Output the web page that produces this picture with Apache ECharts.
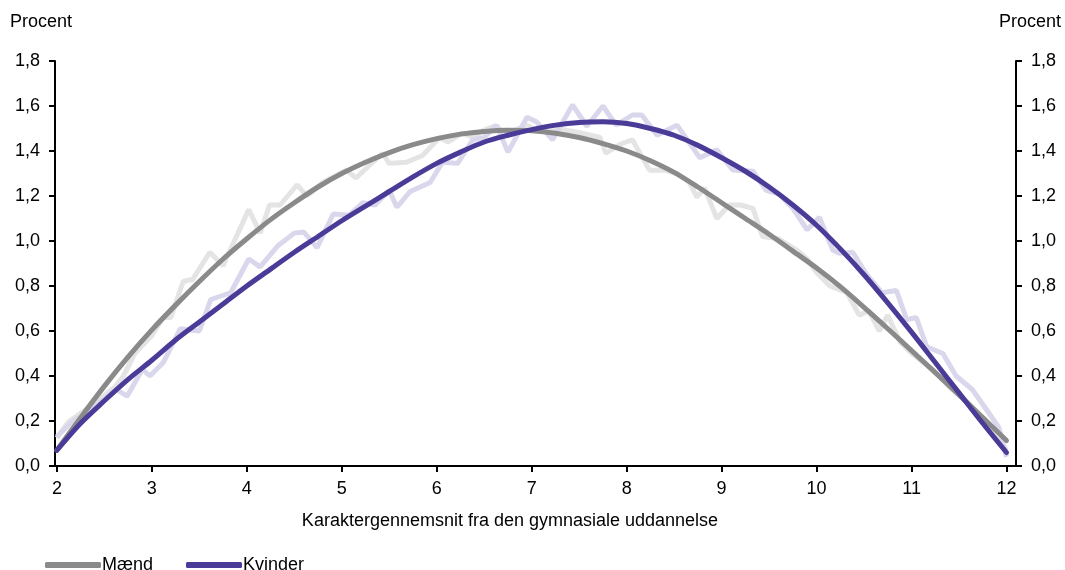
<!DOCTYPE html>
<html>
<head>
<meta charset="utf-8">
<script src="https://cdn.jsdelivr.net/npm/echarts@6/dist/echarts.min.js"></script>
<style>
  html, body { margin: 0; padding: 0; background: #fff; }
  #chart { width: 1065px; height: 570px; }
</style>
</head>
<body>
<div id="chart"></div>
<script>
// karakterer (x) for de udglattede kurver
var grades = [2, 2.25, 2.5, 2.75, 3, 3.25, 3.5, 3.75, 4, 4.25, 4.5, 4.75, 5, 5.25, 5.5, 5.75, 6, 6.25, 6.5, 6.75, 7, 7.25, 7.5, 7.75, 8, 8.25, 8.5, 8.75, 9, 9.25, 9.5, 9.75, 10, 10.25, 10.5, 10.75, 11, 11.25, 11.5, 11.75, 12];
var maendFit = [0.07, 0.215, 0.355, 0.485, 0.605, 0.715, 0.82, 0.92, 1.01, 1.095, 1.17, 1.24, 1.30, 1.35, 1.393, 1.428, 1.455, 1.475, 1.487, 1.492, 1.49, 1.479, 1.46, 1.433, 1.40, 1.357, 1.305, 1.24, 1.17, 1.10, 1.03, 0.955, 0.88, 0.797, 0.705, 0.61, 0.513, 0.415, 0.316, 0.215, 0.113];
var kvinderFit = [0.07, 0.19, 0.29, 0.385, 0.47, 0.56, 0.64, 0.72, 0.80, 0.875, 0.95, 1.02, 1.09, 1.155, 1.22, 1.285, 1.345, 1.395, 1.44, 1.47, 1.495, 1.515, 1.527, 1.53, 1.522, 1.50, 1.47, 1.425, 1.37, 1.31, 1.24, 1.16, 1.07, 0.965, 0.85, 0.725, 0.595, 0.46, 0.325, 0.19, 0.06];

// rå fordelinger (lyse linjer)
var maendRawX = [2.0, 2.12, 2.4, 2.61, 2.7, 2.82, 3.0, 3.12, 3.2, 3.33, 3.43, 3.61, 3.75, 4.02, 4.14, 4.24, 4.35, 4.53, 4.63, 4.8, 4.98, 5.05, 5.15, 5.3, 5.43, 5.5, 5.68, 5.85, 6.03, 6.12, 6.27, 6.38, 6.48, 6.6, 6.75, 6.95, 7.05, 7.25, 7.47, 7.62, 7.72, 7.78, 7.93, 8.06, 8.24, 8.4, 8.53, 8.66, 8.74, 8.82, 8.95, 9.08, 9.2, 9.33, 9.43, 9.6, 9.79, 9.9, 10.0, 10.14, 10.32, 10.45, 10.55, 10.66, 10.75, 10.88, 11.0, 11.22, 11.4, 11.6, 11.8, 12.0];
var maendRaw = [0.125, 0.195, 0.28, 0.35, 0.40, 0.50, 0.58, 0.66, 0.66, 0.82, 0.83, 0.95, 0.89, 1.14, 1.035, 1.16, 1.16, 1.25, 1.2, 1.26, 1.30, 1.315, 1.28, 1.34, 1.39, 1.345, 1.35, 1.38, 1.46, 1.44, 1.48, 1.46, 1.49, 1.51, 1.48, 1.515, 1.49, 1.50, 1.485, 1.47, 1.46, 1.39, 1.43, 1.45, 1.315, 1.315, 1.30, 1.26, 1.195, 1.235, 1.10, 1.16, 1.16, 1.145, 1.02, 1.01, 0.96, 0.92, 0.86, 0.80, 0.77, 0.67, 0.69, 0.60, 0.67, 0.55, 0.50, 0.43, 0.35, 0.28, 0.19, 0.07];
var kvinderRawX = [2.0, 2.14, 2.38, 2.63, 2.74, 2.9, 2.98, 3.12, 3.3, 3.5, 3.62, 3.83, 4.02, 4.14, 4.33, 4.5, 4.6, 4.74, 4.91, 5.08, 5.22, 5.35, 5.5, 5.58, 5.72, 5.93, 6.06, 6.22, 6.38, 6.5, 6.63, 6.75, 6.95, 7.05, 7.22, 7.43, 7.58, 7.75, 7.89, 8.06, 8.16, 8.32, 8.53, 8.77, 8.95, 9.12, 9.33, 9.47, 9.6, 9.75, 9.9, 10.03, 10.17, 10.24, 10.38, 10.53, 10.69, 10.84, 10.95, 11.05, 11.16, 11.33, 11.47, 11.64, 11.79, 11.92, 12.0];
var kvinderRaw = [0.13, 0.19, 0.26, 0.34, 0.31, 0.43, 0.40, 0.46, 0.61, 0.60, 0.74, 0.77, 0.92, 0.885, 0.98, 1.035, 1.04, 0.97, 1.12, 1.115, 1.17, 1.16, 1.225, 1.15, 1.22, 1.26, 1.35, 1.345, 1.45, 1.46, 1.515, 1.395, 1.55, 1.53, 1.45, 1.605, 1.51, 1.60, 1.515, 1.56, 1.56, 1.47, 1.515, 1.37, 1.405, 1.315, 1.31, 1.225, 1.21, 1.145, 1.05, 1.105, 0.96, 0.945, 0.95, 0.85, 0.77, 0.78, 0.65, 0.66, 0.53, 0.50, 0.40, 0.34, 0.25, 0.17, 0.04];

var xTicks = [2, 3, 4, 5, 6, 7, 8, 9, 10, 11, 12];

function pairs(xs, ys) {
  return xs.map(function (x, i) { return [x, ys[i]]; });
}

var font = '"Liberation Sans", Arial, sans-serif';
var fs = 18;
var fmtY = function (v) { return v.toFixed(1).replace('.', ','); };

var myChart = echarts.init(document.getElementById('chart'));

var yAxisBase = {
  type: 'value',
  min: 0,
  max: 1.8,
  interval: 0.2,
  splitLine: { show: false },
  axisLine: { show: true, lineStyle: { color: '#000', width: 2 } },
  axisTick: { show: true, inside: false, length: 6, lineStyle: { color: '#000', width: 2 } },
  axisLabel: { formatter: fmtY, color: '#000', fontSize: fs, fontFamily: font, margin: 15 }
};

var option = {
  animation: false,
  backgroundColor: '#fff',
  grid: { left: 55, right: 49, top: 61, bottom: 104, containLabel: false },
  legend: {
    left: 40,
    top: 551,
    data: ['Mænd', 'Kvinder'],
    icon: 'roundRect',
    itemWidth: 56,
    itemHeight: 6,
    itemGap: 33,
    textStyle: { color: '#000', fontSize: fs, fontFamily: font, padding: [0, 0, 0, -4] }
  },
  graphic: [
    { type: 'text', x: 10, y: 22, style: { text: 'Procent', fontSize: fs, fontFamily: font, fill: '#000', verticalAlign: 'middle' } },
    { type: 'text', x: 1061, y: 22, style: { text: 'Procent', fontSize: fs, fontFamily: font, fill: '#000', align: 'right', verticalAlign: 'middle' } },
    { type: 'text', x: 510, y: 521, style: { text: 'Karaktergennemsnit fra den gymnasiale uddannelse', fontSize: fs, fontFamily: font, fill: '#000', align: 'center', verticalAlign: 'middle' } }
  ],
  xAxis: {
    type: 'value',
    min: 1.98,
    max: 12.1,
    splitLine: { show: false },
    axisLine: { show: true, onZero: false, lineStyle: { color: '#000', width: 2 } },
    axisTick: { show: true, length: 6, customValues: xTicks, lineStyle: { color: '#000', width: 2 } },
    axisLabel: { customValues: xTicks, color: '#000', fontSize: fs, fontFamily: font, margin: 14 }
  },
  yAxis: [
    Object.assign({}, yAxisBase, { position: 'left' }),
    Object.assign({}, yAxisBase, { position: 'right' })
  ],
  series: [
    {
      name: 'Mænd (rå)',
      type: 'line',
      data: pairs(maendRawX, maendRaw),
      showSymbol: false,
      lineStyle: { color: '#e4e4e4', width: 5 },
      z: 1
    },
    {
      name: 'Kvinder (rå)',
      type: 'line',
      data: pairs(kvinderRawX, kvinderRaw),
      showSymbol: false,
      lineStyle: { color: '#d9d7ec', width: 5 },
      z: 1
    },
    {
      name: 'Mænd',
      type: 'line',
      data: pairs(grades, maendFit),
      smooth: 0.3,
      showSymbol: false,
      color: '#8a8a8a',
      lineStyle: { color: '#8a8a8a', width: 5, cap: 'round' },
      z: 3
    },
    {
      name: 'Kvinder',
      type: 'line',
      data: pairs(grades, kvinderFit),
      smooth: 0.3,
      showSymbol: false,
      color: '#4a3b98',
      lineStyle: { color: '#4a3b98', width: 5, cap: 'round' },
      z: 4
    }
  ]
};

myChart.setOption(option);
</script>
</body>
</html>
